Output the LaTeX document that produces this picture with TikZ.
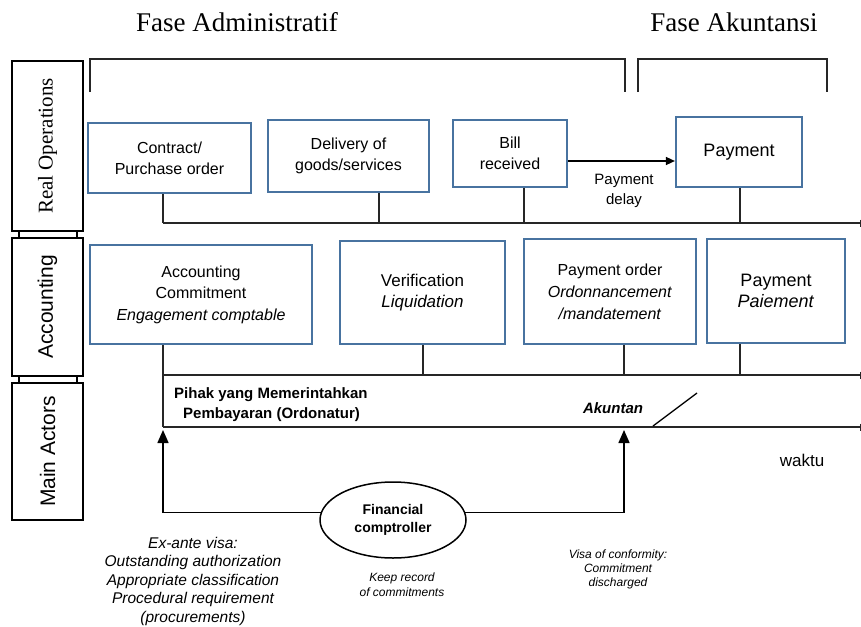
\documentclass[tikz,border=0pt]{standalone}
\usepackage{fontspec}
\setmainfont{Liberation Sans}
\newfontfamily\seriffont{Liberation Serif}
\usetikzlibrary{shapes.geometric,arrows.meta,calc}
\definecolor{boxblue}{RGB}{72,115,160}
\begin{document}
\begin{tikzpicture}[x=1pt,y=-1pt,
  opbox/.style={draw=boxblue, line width=2.2pt, align=center, inner sep=0pt, font=\fontsize{16}{21}\selectfont},
  bigbox/.style={opbox, font=\fontsize{18}{21}\selectfont},
  lanebox/.style={draw=black, line width=1.8pt, rotate=90, inner sep=0pt, minimum height=71pt},
  tline/.style={line width=1.5pt, black!85},
  tickend/.style={tline, -{Bar[width=7pt,line width=1pt]}},
  uparrow/.style={line width=1.5pt, -{Triangle[width=11pt,length=13pt]}},
  note/.style={align=center, font=\fontsize{15.5}{18.5}\selectfont\itshape, inner sep=0pt},
  smallnote/.style={align=center, font=\fontsize{12}{14}\selectfont\itshape, inner sep=0pt}
]
\useasboundingbox (0,0) rectangle (861,626);

% titles
\node[font=\seriffont\fontsize{27}{30}\selectfont] (tadm) at (237,22) {Fase Administratif};
\node[font=\seriffont\fontsize{27}{30}\selectfont] (takt) at (734,22) {Fase Akuntansi};

% brackets
\draw[line width=1.5pt, black!85] (90,92) |- (625,59) -- (625,92);
\draw[line width=1.5pt, black!85] (638,92) |- (827,59) -- (827,92);

% lanes
\node[lanebox, minimum width=170pt, font=\seriffont\fontsize{21}{24}\selectfont] (lane1) at (47.5,146) {Real Operations};
\node[lanebox, minimum width=138pt, font=\fontsize{21}{24}\selectfont] (lane2) at (47.5,307) {Accounting};
\node[lanebox, minimum width=137pt, font=\fontsize{21}{24}\selectfont] (lane3) at (47.5,451.5) {Main Actors};
\draw[line width=1.2pt] (19,231) rectangle (77,238);
\draw[line width=1.2pt] (19,376) rectangle (77,383);

% real operations boxes
\node[opbox, minimum width=163pt, minimum height=70pt] (contract) at (169.5,158) {Contract/\\Purchase order};
\node[opbox, minimum width=161pt, minimum height=72pt] (delivery) at (348.5,156) {Delivery of\\goods/services};
\node[opbox, minimum width=114pt, minimum height=67pt] (bill) at (510,153.5) {Bill\\received};
\node[bigbox, minimum width=126pt, minimum height=70pt] (payop) at (739,152) {Payment};
\draw[line width=1.5pt, -{Triangle[width=8pt,length=9pt]}] (bill.east |- 0,161) -- (payop.west |- 0,161);
\node[align=center, font=\fontsize{15}{20}\selectfont, inner sep=0pt] (delay) at (624,191) {Payment\\delay};

% timeline 1
\coordinate (t1s) at (163,223);
\coordinate (t1e) at (861,223);
\coordinate (t1b) at (379,223);
\coordinate (t1c) at (524,223);
\coordinate (t1d) at (740,223);
\draw[tickend] (t1s) -- (t1e);
\draw[tline] (t1s |- contract.south) -- (t1s);
\draw[tline] (t1b |- delivery.south) -- (t1b);
\draw[tline] (t1c |- bill.south) -- (t1c);
\draw[tline] (t1d |- payop.south) -- (t1d);

% accounting boxes
\node[opbox, minimum width=222pt, minimum height=99pt, font=\fontsize{16}{21.5}\selectfont] (commit) at (201,294.5) {Accounting\\Commitment\\\textit{Engagement comptable}};
\node[opbox, minimum width=165pt, minimum height=103pt, font=\fontsize{17}{21.5}\selectfont] (verif) at (422.5,292.5) {Verification\\\textit{Liquidation}};
\node[opbox, minimum width=172pt, minimum height=105pt, font=\fontsize{16}{22}\selectfont] (order) at (610,291.5) {Payment order\\\textit{Ordonnancement}\\\textit{/mandatement}};
\node[bigbox, minimum width=138pt, minimum height=104pt] (payacc) at (776,291) {Payment\\\textit{Paiement}};

% timeline 2
\coordinate (t2s) at (163,375);
\coordinate (t2e) at (861,375);
\coordinate (t2b) at (423,375);
\coordinate (t2c) at (624,375);
\coordinate (t2d) at (740,375);
\draw[tickend] (t2s) -- (t2e);
\draw[tline] (t2b |- verif.south) -- (t2b);
\draw[tline] (t2c |- order.south) -- (t2c);
\draw[tline] (t2d |- payacc.south) -- (t2d);

% timeline 3
\coordinate (t3s) at (163,427);
\coordinate (t3e) at (861,427);
\draw[tickend] (t3s) -- (t3e);
\draw[tline] (t3s |- commit.south) -- (t3s);

\node[anchor=west, align=left, font=\fontsize{15}{20}\selectfont\bfseries, inner sep=0pt] (ordo) at (174,405) {Pihak yang Memerintahkan\\\hspace*{9pt}Pembayaran (Ordonatur)};
\node[font=\fontsize{15}{18}\selectfont\bfseries\itshape, inner sep=0pt] (akuntan) at (613,408) {Akuntan};
\coordinate (sl1) at (653,426);
\coordinate (sl2) at (697,393);
\draw[line width=1.3pt] (sl1) -- (sl2);

\node[font=\fontsize{17}{20}\selectfont, inner sep=0pt] (waktu) at (802,460) {waktu};

% financial comptroller
\node[draw, ellipse, line width=1.5pt, minimum width=146pt, minimum height=76pt, align=center, font=\fontsize{14}{18}\selectfont\bfseries, inner sep=0pt] (fc) at (393,520) {Financial\\comptroller};
\coordinate (aL) at (163,430);
\coordinate (aR) at (624,430);
\draw[uparrow] (fc.174) -- (fc.174 -| aL) -- (aL);
\draw[uparrow] (fc.6) -- (fc.6 -| aR) -- (aR);

% notes
\node[note] (exante) at (193,581) {Ex-ante visa:\\Outstanding authorization\\Appropriate classification\\Procedural requirement\\(procurements)};
\node[align=center, font=\fontsize{12}{15.5}\selectfont\itshape, inner sep=0pt] (keep) at (402,584.5) {Keep record\\of commitments};
\node[smallnote] (visa) at (618,569.5) {Visa of conformity:\\Commitment\\discharged};
\end{tikzpicture}
\end{document}
